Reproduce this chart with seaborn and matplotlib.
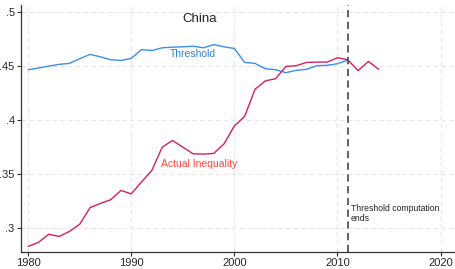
import numpy as np
import pandas as pd
import seaborn as sns
import matplotlib.pyplot as plt

years = list(range(1980, 2015))
threshold = [0.4465, 0.4480, 0.4498, 0.4514, 0.4523, 0.4566, 0.4606, 0.4584,
             0.4557, 0.4550, 0.4569, 0.4651, 0.4642, 0.4667, 0.4673, 0.4676,
             0.4682, 0.4667, 0.4697, 0.4676, 0.4661, 0.4532, 0.4523, 0.4474,
             0.4465, 0.4437, 0.4459, 0.4468, 0.4502, 0.4505, 0.4520, 0.4553]
actual = [0.2832, 0.2869, 0.2945, 0.2924, 0.2970, 0.3037, 0.3190, 0.3229,
          0.3263, 0.3349, 0.3318, 0.3428, 0.3535, 0.3749, 0.3811, 0.3749,
          0.3688, 0.3685, 0.3691, 0.3780, 0.3945, 0.4034, 0.4284, 0.4361,
          0.4382, 0.4495, 0.4502, 0.4532, 0.4535, 0.4535, 0.4575, 0.4557,
          0.4456, 0.4541, 0.4468]
x_ticks = [1980, 1990, 2000, 2010, 2020]
y_ticks = [0.3, 0.35, 0.4, 0.45, 0.5]
y_labels = ['.3', '.35', '.4', '.45', '.5']
cutoff_year = 2011

df_thr = pd.DataFrame({'year': years[:len(threshold)], 'value': threshold})
df_act = pd.DataFrame({'year': years, 'value': actual})

sns.set_style('white')
plt.rcParams['font.family'] = ['Liberation Sans', 'DejaVu Sans']

fig, ax = plt.subplots(figsize=(4.55, 2.69), dpi=100)
fig.subplots_adjust(left=0.046, right=1.0, bottom=0.063, top=0.982)

# grid first so lines sit on top
for xt in x_ticks:
    ax.axvline(xt, color='#e6e6e6', linewidth=0.8, linestyle=(0, (4, 3)), zorder=0)
for yt in y_ticks:
    ax.axhline(yt, color='#e6e6e6', linewidth=0.8, linestyle=(0, (4, 3)), zorder=0)

sns.lineplot(data=df_thr, x='year', y='value', color='#3a8ff0', linewidth=1.0, ax=ax)
sns.lineplot(data=df_act, x='year', y='value', color='#d81e5b', linewidth=1.0, ax=ax)

ax.axvline(cutoff_year, color='#555555', linewidth=1.3, linestyle=(0, (4, 2.5)))

ax.text(1996.6, 0.4936, 'China', fontsize=9.5, ha='center', va='center', color='#222222')
ax.text(1996.0, 0.4612, 'Threshold', fontsize=7.5, ha='center', va='center', color='#2d7fe0')
ax.text(1996.6, 0.359, 'Actual Inequality', fontsize=7.5, ha='center', va='center', color='#ff4433')
ax.text(2011.3, 0.3135, 'Threshold computation\nends', fontsize=6.2, ha='left', va='center',
        color='#222222', linespacing=1.1)

ax.set_xlim(1979.3, 2021.4)
ax.set_ylim(0.278, 0.5064)
ax.set_xticks(x_ticks)
ax.set_yticks(y_ticks)
ax.set_yticklabels(y_labels)
ax.set_xlabel('')
ax.set_ylabel('')
ax.tick_params(axis='both', direction='out', length=3, width=0.8, labelsize=8, pad=1.5,
               color='#333333', bottom=True, left=True)
sns.despine(ax=ax)
for s in ['left', 'bottom']:
    ax.spines[s].set_color('#333333')
    ax.spines[s].set_linewidth(0.9)

fig.savefig('out.png', dpi=100)
